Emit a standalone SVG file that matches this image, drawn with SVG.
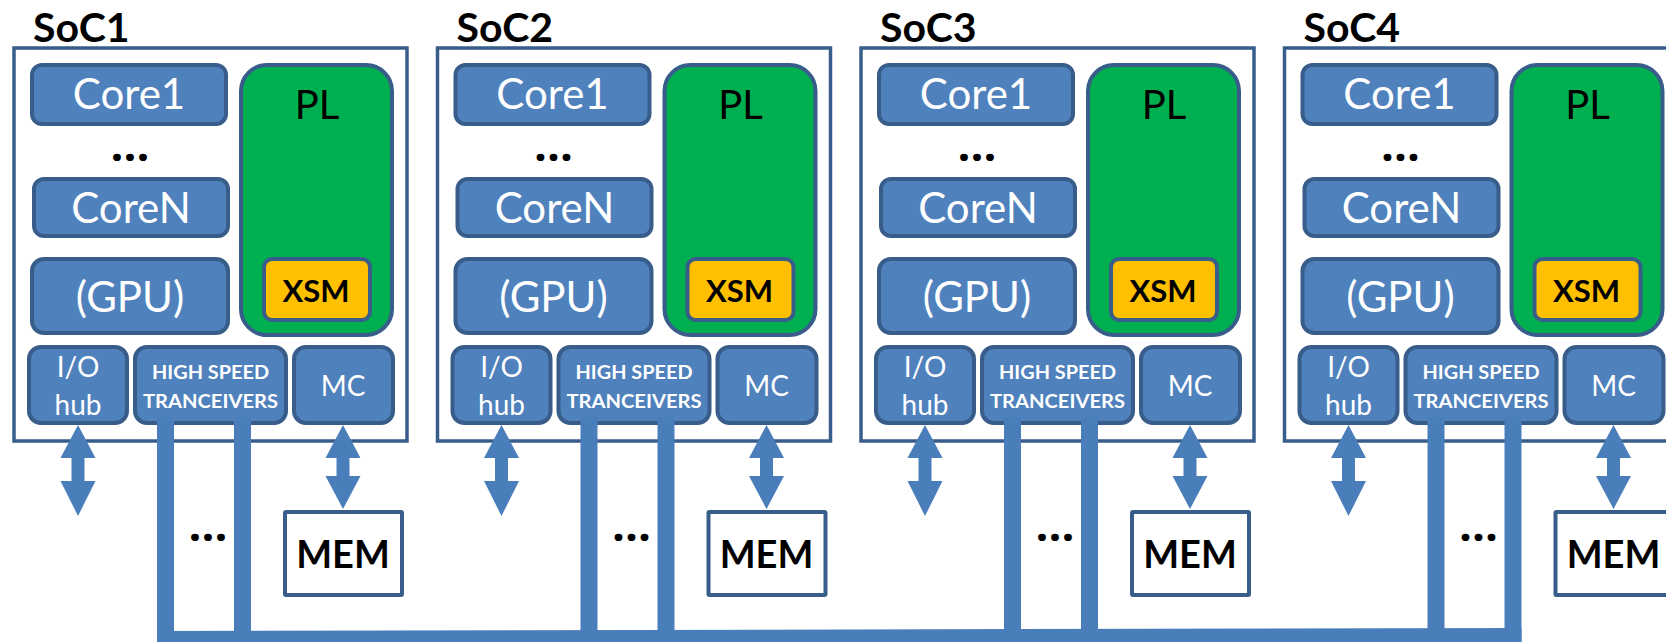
<svg xmlns="http://www.w3.org/2000/svg" width="1666" height="642" viewBox="0 0 1666 642">
<style>
.soc{fill:#ffffff;stroke:#385d8a;stroke-width:3.5}
.blk{fill:#4f81bd;stroke:#385d8a;stroke-width:4}
.pl{fill:#00b050;stroke:#385d8a;stroke-width:4}
.xsm{fill:#ffc000;stroke:#385d8a;stroke-width:4}
.mem{fill:#ffffff;stroke:#385d8a;stroke-width:4}
.conn{fill:#4a7ebb;stroke:none}
text{font-family:Lato,"Open Sans","Liberation Sans",sans-serif;text-anchor:middle}
.w{fill:#ffffff}
.k{fill:#000000}
.big{font-size:42px}
.pltxt{font-size:40px}
.mid{font-size:28px}
.sm{font-size:19.5px;font-weight:bold}
.bold{font-weight:bold}
.title{font-size:41px;font-weight:bold;text-anchor:start}
.dots{font-family:"Open Sans",sans-serif;font-size:38px;font-weight:800;letter-spacing:2px}
</style>
<defs>
<path id="arrIO" d="M78,425 L95.5,458 L84.5,458 L84.5,481 L95.5,481 L78,516 L60.5,481 L71.5,481 L71.5,458 L60.5,458 Z"/>
<path id="arrMC" d="M343,425 L360.5,458 L349.5,458 L349.5,476 L360.5,476 L343,509 L325.5,476 L336.5,476 L336.5,458 L325.5,458 Z"/>
</defs>

<g id="soc1" transform="translate(0,0)">
  <text class="k title" x="33" y="42">SoC1</text>
  <rect class="soc" x="14" y="48" width="393" height="393"/>
  <g id="soc1-core1"><rect class="blk" x="32" y="65" width="194" height="59" rx="10"/><text class="w big" x="129" y="109">Core1</text></g>
  <text class="k dots" x="131" y="161">...</text>
  <g id="soc1-coreN"><rect class="blk" x="34" y="179" width="194" height="57" rx="10"/><text class="w big" x="131" y="223">CoreN</text></g>
  <g id="soc1-gpu"><rect class="blk" x="32" y="259" width="196" height="74" rx="12"/><text class="w big" x="130" y="312">(GPU)</text></g>
  <g id="soc1-pl"><rect class="pl" x="241" y="65" width="151" height="270" rx="26"/><text class="k pltxt" x="317" y="119">PL</text></g>
  <g id="soc1-xsm"><rect class="xsm" x="264" y="259" width="106" height="61" rx="8"/><text class="k bold" style="font-size:31px" x="316" y="302">XSM</text></g>
  <g id="soc1-io"><rect class="blk" x="29" y="347" width="98" height="76" rx="12"/><text class="w mid" x="78" y="377">I/O</text><text class="w mid" x="78" y="415">hub</text></g>
  <g id="soc1-hst"><rect class="blk" x="135" y="347" width="151" height="76" rx="12"/><text class="w sm" x="210.5" y="379" textLength="117" lengthAdjust="spacingAndGlyphs">HIGH SPEED</text><text class="w sm" x="210.5" y="408" textLength="135" lengthAdjust="spacingAndGlyphs">TRANCEIVERS</text></g>
  <g id="soc1-mc"><rect class="blk" x="294" y="347" width="99" height="76" rx="12"/><text class="w mid" x="343" y="396">MC</text></g>
  <g id="soc1-mem"><rect class="mem" x="285" y="512" width="117" height="83" rx="1"/><text class="k bold" style="font-size:38px" x="343" y="568">MEM</text></g>
  <text class="k dots" x="209" y="541">...</text>
</g>

<g id="soc2" transform="translate(423.5,0)">
  <text class="k title" x="33" y="42">SoC2</text>
  <rect class="soc" x="14" y="48" width="393" height="393"/>
  <g id="soc2-core1"><rect class="blk" x="32" y="65" width="194" height="59" rx="10"/><text class="w big" x="129" y="109">Core1</text></g>
  <text class="k dots" x="131" y="161">...</text>
  <g id="soc2-coreN"><rect class="blk" x="34" y="179" width="194" height="57" rx="10"/><text class="w big" x="131" y="223">CoreN</text></g>
  <g id="soc2-gpu"><rect class="blk" x="32" y="259" width="196" height="74" rx="12"/><text class="w big" x="130" y="312">(GPU)</text></g>
  <g id="soc2-pl"><rect class="pl" x="241" y="65" width="151" height="270" rx="26"/><text class="k pltxt" x="317" y="119">PL</text></g>
  <g id="soc2-xsm"><rect class="xsm" x="264" y="259" width="106" height="61" rx="8"/><text class="k bold" style="font-size:31px" x="316" y="302">XSM</text></g>
  <g id="soc2-io"><rect class="blk" x="29" y="347" width="98" height="76" rx="12"/><text class="w mid" x="78" y="377">I/O</text><text class="w mid" x="78" y="415">hub</text></g>
  <g id="soc2-hst"><rect class="blk" x="135" y="347" width="151" height="76" rx="12"/><text class="w sm" x="210.5" y="379" textLength="117" lengthAdjust="spacingAndGlyphs">HIGH SPEED</text><text class="w sm" x="210.5" y="408" textLength="135" lengthAdjust="spacingAndGlyphs">TRANCEIVERS</text></g>
  <g id="soc2-mc"><rect class="blk" x="294" y="347" width="99" height="76" rx="12"/><text class="w mid" x="343" y="396">MC</text></g>
  <g id="soc2-mem"><rect class="mem" x="285" y="512" width="117" height="83" rx="1"/><text class="k bold" style="font-size:38px" x="343" y="568">MEM</text></g>
  <text class="k dots" x="209" y="541">...</text>
</g>

<g id="soc3" transform="translate(847,0)">
  <text class="k title" x="33" y="42">SoC3</text>
  <rect class="soc" x="14" y="48" width="393" height="393"/>
  <g id="soc3-core1"><rect class="blk" x="32" y="65" width="194" height="59" rx="10"/><text class="w big" x="129" y="109">Core1</text></g>
  <text class="k dots" x="131" y="161">...</text>
  <g id="soc3-coreN"><rect class="blk" x="34" y="179" width="194" height="57" rx="10"/><text class="w big" x="131" y="223">CoreN</text></g>
  <g id="soc3-gpu"><rect class="blk" x="32" y="259" width="196" height="74" rx="12"/><text class="w big" x="130" y="312">(GPU)</text></g>
  <g id="soc3-pl"><rect class="pl" x="241" y="65" width="151" height="270" rx="26"/><text class="k pltxt" x="317" y="119">PL</text></g>
  <g id="soc3-xsm"><rect class="xsm" x="264" y="259" width="106" height="61" rx="8"/><text class="k bold" style="font-size:31px" x="316" y="302">XSM</text></g>
  <g id="soc3-io"><rect class="blk" x="29" y="347" width="98" height="76" rx="12"/><text class="w mid" x="78" y="377">I/O</text><text class="w mid" x="78" y="415">hub</text></g>
  <g id="soc3-hst"><rect class="blk" x="135" y="347" width="151" height="76" rx="12"/><text class="w sm" x="210.5" y="379" textLength="117" lengthAdjust="spacingAndGlyphs">HIGH SPEED</text><text class="w sm" x="210.5" y="408" textLength="135" lengthAdjust="spacingAndGlyphs">TRANCEIVERS</text></g>
  <g id="soc3-mc"><rect class="blk" x="294" y="347" width="99" height="76" rx="12"/><text class="w mid" x="343" y="396">MC</text></g>
  <g id="soc3-mem"><rect class="mem" x="285" y="512" width="117" height="83" rx="1"/><text class="k bold" style="font-size:38px" x="343" y="568">MEM</text></g>
  <text class="k dots" x="209" y="541">...</text>
</g>

<g id="soc4" transform="translate(1270.5,0)">
  <text class="k title" x="33" y="42">SoC4</text>
  <rect class="soc" x="14" y="48" width="393" height="393"/>
  <g id="soc4-core1"><rect class="blk" x="32" y="65" width="194" height="59" rx="10"/><text class="w big" x="129" y="109">Core1</text></g>
  <text class="k dots" x="131" y="161">...</text>
  <g id="soc4-coreN"><rect class="blk" x="34" y="179" width="194" height="57" rx="10"/><text class="w big" x="131" y="223">CoreN</text></g>
  <g id="soc4-gpu"><rect class="blk" x="32" y="259" width="196" height="74" rx="12"/><text class="w big" x="130" y="312">(GPU)</text></g>
  <g id="soc4-pl"><rect class="pl" x="241" y="65" width="151" height="270" rx="26"/><text class="k pltxt" x="317" y="119">PL</text></g>
  <g id="soc4-xsm"><rect class="xsm" x="264" y="259" width="106" height="61" rx="8"/><text class="k bold" style="font-size:31px" x="316" y="302">XSM</text></g>
  <g id="soc4-io"><rect class="blk" x="29" y="347" width="98" height="76" rx="12"/><text class="w mid" x="78" y="377">I/O</text><text class="w mid" x="78" y="415">hub</text></g>
  <g id="soc4-hst"><rect class="blk" x="135" y="347" width="151" height="76" rx="12"/><text class="w sm" x="210.5" y="379" textLength="117" lengthAdjust="spacingAndGlyphs">HIGH SPEED</text><text class="w sm" x="210.5" y="408" textLength="135" lengthAdjust="spacingAndGlyphs">TRANCEIVERS</text></g>
  <g id="soc4-mc"><rect class="blk" x="294" y="347" width="99" height="76" rx="12"/><text class="w mid" x="343" y="396">MC</text></g>
  <g id="soc4-mem"><rect class="mem" x="285" y="512" width="117" height="83" rx="1"/><text class="k bold" style="font-size:38px" x="343" y="568">MEM</text></g>
  <text class="k dots" x="209" y="541">...</text>
</g>

<g id="connectors" class="conn">
  <use href="#arrIO"/><use href="#arrMC"/>
  <use href="#arrIO" x="423.5"/><use href="#arrMC" x="423.5"/>
  <use href="#arrIO" x="847"/><use href="#arrMC" x="847"/>
  <use href="#arrIO" x="1270.5"/><use href="#arrMC" x="1270.5"/>
  <rect x="157" y="417" width="17" height="225"/>
  <rect x="234" y="417" width="17" height="225"/>
  <rect x="580.5" y="417" width="17" height="225"/>
  <rect x="657.5" y="417" width="17" height="225"/>
  <rect x="1004" y="417" width="17" height="225"/>
  <rect x="1081" y="417" width="17" height="225"/>
  <rect x="1427.5" y="417" width="17" height="225"/>
  <rect x="1504.5" y="417" width="17" height="225"/>
  <polygon points="157,631 1521.5,628 1521.5,642 157,642"/>
</g>
</svg>
